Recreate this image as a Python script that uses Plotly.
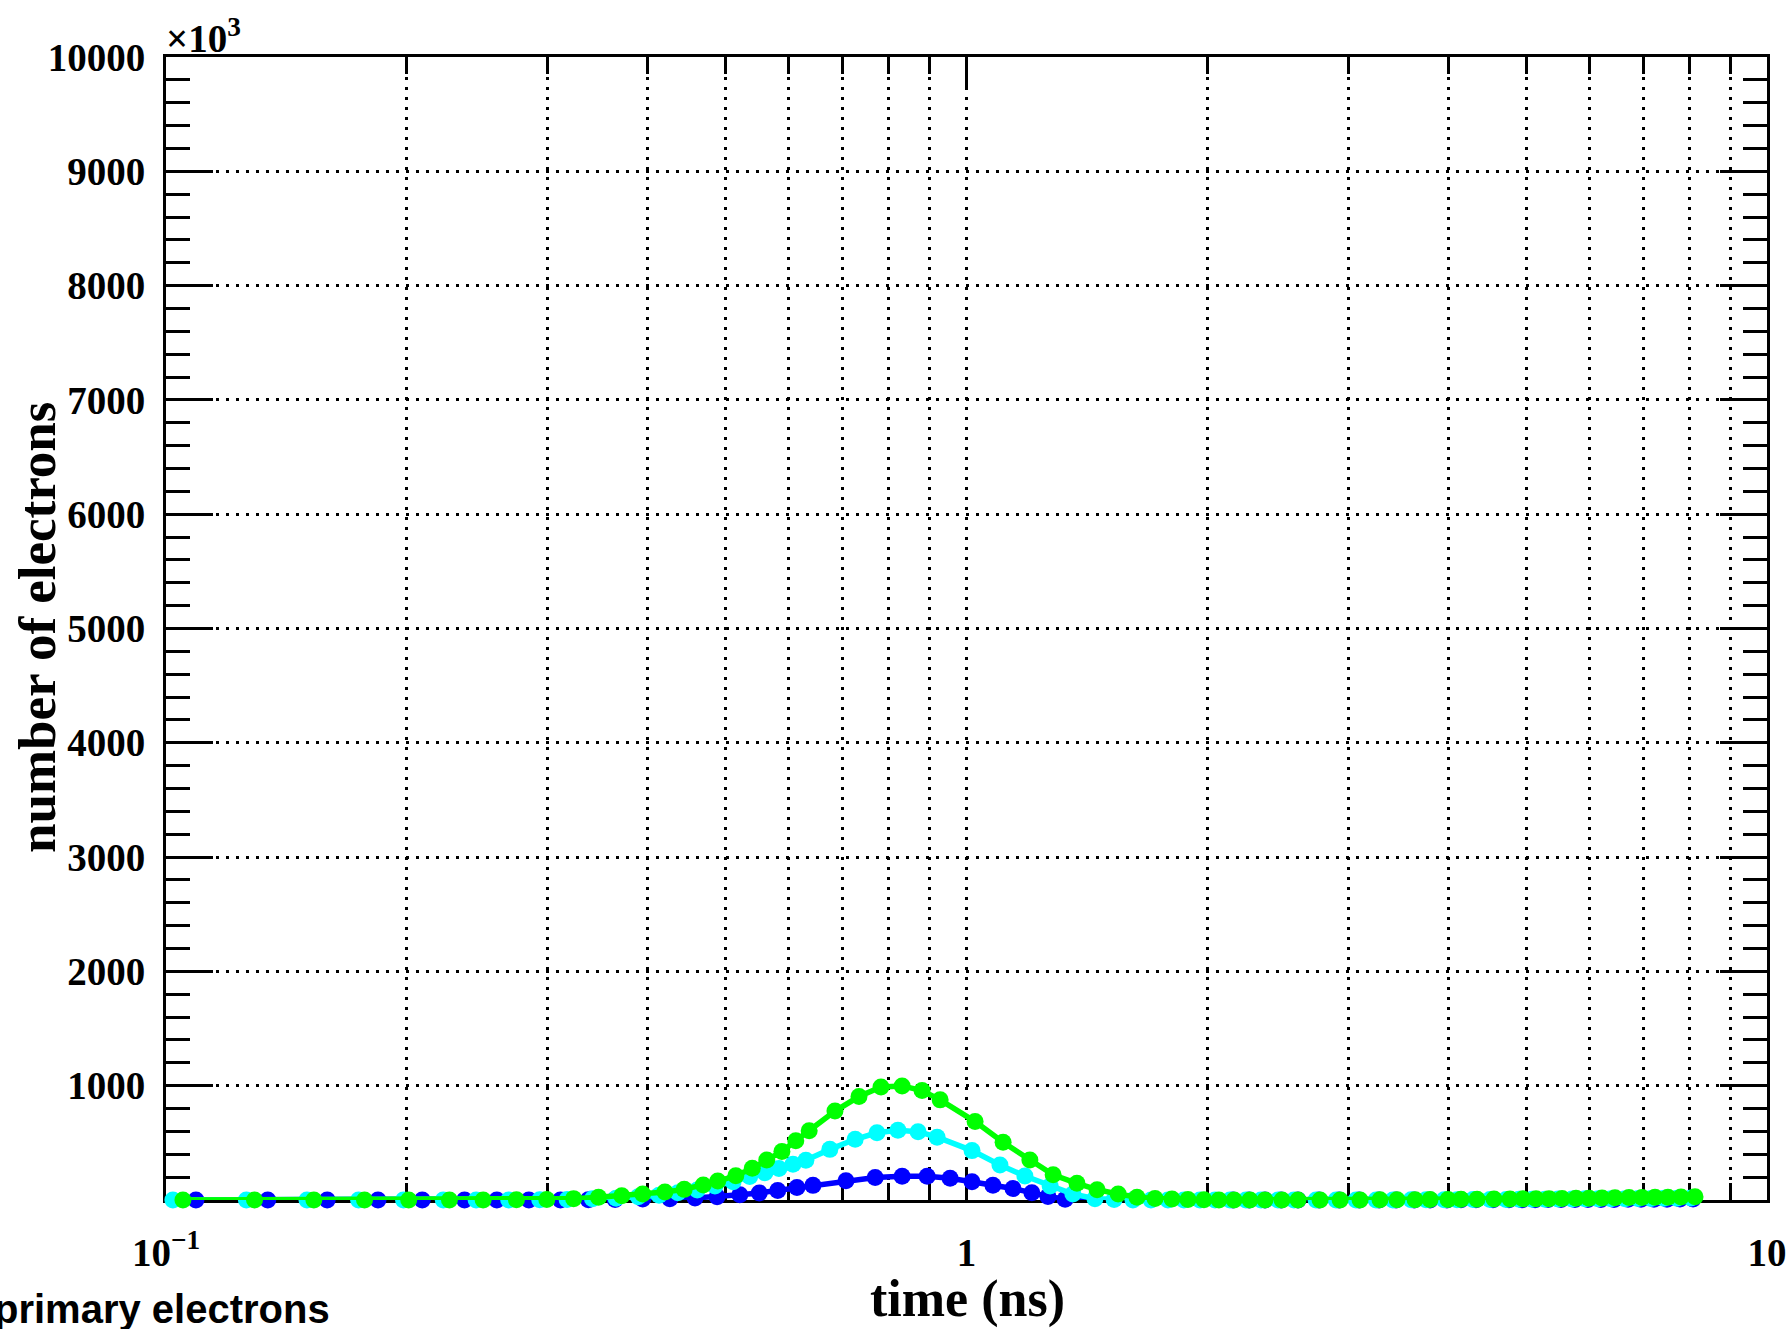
import plotly.graph_objects as go

# time (ns) and number of electrons (x10^3) for the three curves
blue_t = [0.109, 0.134, 0.159, 0.184, 0.209, 0.236, 0.259, 0.284, 0.311, 0.337,
          0.364, 0.394, 0.426, 0.458, 0.488, 0.521, 0.551, 0.581, 0.614, 0.643,
          0.707, 0.769, 0.831, 0.893, 0.954, 1.016, 1.079, 1.143, 1.207, 1.264,
          1.328, 1.394, 1.460, 1.538, 1.619, 1.705, 1.791, 1.880, 1.969, 2.062,
          2.152, 2.254, 2.360, 2.471, 2.595, 2.756, 2.920, 3.093, 3.276, 3.440,
          3.624, 3.794, 3.983, 4.147, 4.330, 4.547, 4.761, 4.942, 5.132, 5.327,
          5.530, 5.756, 5.975, 6.203, 6.441, 6.706, 6.961, 7.225, 7.501, 7.786,
          8.084]
blue_n = [0, 0, 0, 0, 0, 0, 0, 0, 0, 2,
          4, 8, 12, 18, 29, 45, 62, 84, 110, 128,
          168, 196, 208, 208, 190, 160, 130, 100, 64, 30,
          6, -9, -14, -12, -10, -8, -6, -4, -2, -1,
          0, 0, 0, 0, 0, 0, 0, 0, 0, 1,
          1, 1, 1, 2, 2, 2, 3, 3, 3, 4,
          4, 4, 5, 5, 5, 6, 6, 7, 7, 8,
          8]

cyan_t = [0.102, 0.126, 0.150, 0.174, 0.198, 0.222, 0.244, 0.268, 0.293, 0.317,
          0.341, 0.365, 0.389, 0.413, 0.436, 0.461, 0.485, 0.511, 0.536, 0.560,
          0.583, 0.607, 0.630, 0.675, 0.726, 0.773, 0.821, 0.870, 0.919, 1.016,
          1.101, 1.183, 1.272, 1.358, 1.447, 1.529, 1.614, 1.700, 1.785, 1.869,
          1.957, 2.044, 2.134, 2.234, 2.333, 2.450, 2.565, 2.733, 2.895, 3.066,
          3.248, 3.410, 3.593, 3.750, 3.950, 4.100, 4.293, 4.508, 4.721, 4.900,
          5.087, 5.281, 5.482, 5.707, 5.924, 6.151, 6.385, 6.648, 6.901, 7.163,
          7.435, 7.719, 8.037]
cyan_n = [0, 0, 0, 0, 0, 0, 0, 1, 2, 5,
          10, 15, 28, 42, 64, 88, 122, 160, 205, 239,
          276, 312, 348, 443, 531, 588, 610, 598, 550, 432,
          306, 210, 122, 52, 12, 4, 1, 0, 0, 0,
          0, 0, 0, 0, 0, 0, 0, 0, 0, 1,
          1, 1, 2, 2, 3, 3, 4, 5, 5, 6,
          7, 7, 8, 9, 10, 10, 11, 12, 13, 14,
          15, 16, 17]

green_t = [0.105, 0.129, 0.153, 0.177, 0.201, 0.226, 0.249, 0.274, 0.299, 0.323,
           0.347, 0.371, 0.394, 0.420, 0.444, 0.469, 0.489, 0.515, 0.540, 0.563,
           0.588, 0.612, 0.636, 0.685, 0.734, 0.782, 0.831, 0.880, 0.927, 1.025,
           1.111, 1.200, 1.283, 1.374, 1.456, 1.547, 1.633, 1.720, 1.806, 1.891,
           1.980, 2.067, 2.159, 2.260, 2.360, 2.478, 2.595, 2.765, 2.929, 3.102,
           3.285, 3.450, 3.634, 3.794, 3.995, 4.147, 4.343, 4.560, 4.775, 4.957,
           5.146, 5.342, 5.546, 5.773, 5.993, 6.222, 6.458, 6.724, 6.980, 7.246,
           7.521, 7.809, 8.130]
green_n = [0, 0, 0, 0, 0, 0, 0, 2, 5, 12,
           24, 38, 52, 70, 93, 131, 166, 212, 277, 350,
           424, 518, 606, 778, 905, 988, 998, 958, 876, 686,
           505, 350, 220, 146, 90, 52, 25, 14, 8, 4,
           2, 1, 0, 0, 0, 0, 0, 0, 1, 1,
           2, 2, 3, 4, 5, 6, 7, 8, 9, 10,
           11, 12, 13, 15, 16, 18, 19, 21, 22, 24,
           25, 27, 28]

# axis ticks
x_major = [0.1, 1, 10]
x_major_text = ["10<sup>\u22121</sup>", "1", "10"]
x_minor = [0.2, 0.3, 0.4, 0.5, 0.6, 0.7, 0.8, 0.9, 2, 3, 4, 5, 6, 7, 8, 9]
y_major = [1000, 2000, 3000, 4000, 5000, 6000, 7000, 8000, 9000, 10000]
y_major_text = ["1000", "2000", "3000", "4000", "5000", "6000", "7000", "8000", "9000", "10000"]

W, H = 1790, 1329
L, R, T, B = 166, 23, 57, 129
PW, PH = W - L - R, H - T - B

serif_bold = dict(family="Liberation Serif", size=39, color="black", weight="bold")
grid = dict(showgrid=True, gridcolor="black", gridwidth=2.5, griddash="3px,7px")

fig = go.Figure()
for t, n, color in [(blue_t, blue_n, "#0000ff"),
                    (cyan_t, cyan_n, "#00ffff"),
                    (green_t, green_n, "#00ff00")]:
    fig.add_trace(go.Scatter(
        x=t, y=n, mode="lines+markers",
        line=dict(color=color, width=5.5),
        marker=dict(color=color, size=17, line=dict(width=0)),
        cliponaxis=False, showlegend=False, hoverinfo="x+y",
    ))

fig.update_xaxes(
    type="log", range=[-1, 1], automargin=False,
    tickmode="array", tickvals=x_major, ticktext=x_major_text,
    ticks="inside", ticklen=33, tickwidth=3, tickcolor="black",
    showline=True, linewidth=3, linecolor="black", mirror="ticks",
    zeroline=False, tickfont=serif_bold, ticklabelstandoff=16,
    layer="below traces",
    minor=dict(tickmode="array", tickvals=x_minor, ticks="inside", ticklen=17,
               tickwidth=3, tickcolor="black", **grid),
    **grid,
)
fig.update_yaxes(
    range=[0, 10000], automargin=False,
    tickmode="array", tickvals=y_major, ticktext=y_major_text,
    ticks="inside", ticklen=47, tickwidth=3, tickcolor="black",
    showline=True, linewidth=3, linecolor="black", mirror="ticks",
    zeroline=False, tickfont=serif_bold, ticklabelstandoff=10,
    layer="below traces",
    minor=dict(tickmode="linear", tick0=0, dtick=200, ticks="inside", ticklen=24,
               tickwidth=3, tickcolor="black", showgrid=False),
    **grid,
)


def px_x(px):
    return (px - L) / PW


def px_y(py):
    return (H - B - py) / PH


fig.add_annotation(text="\u00d710<sup>3</sup>", xref="paper", yref="paper",
                   x=px_x(164), y=px_y(36), xanchor="left", yanchor="middle",
                   showarrow=False,
                   font=dict(family="Liberation Serif", size=39, color="black", weight="bold"))
fig.add_annotation(text="time (ns)", xref="paper", yref="paper",
                   x=px_x(967), y=px_y(1299), xanchor="center", yanchor="middle",
                   showarrow=False,
                   font=dict(family="Liberation Serif", size=52, color="black", weight="bold"))
fig.add_annotation(text="number of electrons", xref="paper", yref="paper",
                   x=px_x(37), y=px_y(628), xanchor="center", yanchor="middle",
                   textangle=-90, showarrow=False,
                   font=dict(family="Liberation Serif", size=53, color="black", weight="bold"))
fig.add_annotation(text="primary electrons", xref="paper", yref="paper",
                   x=px_x(-8), y=px_y(1309), xanchor="left", yanchor="middle",
                   showarrow=False,
                   font=dict(family="Liberation Sans", size=40, color="black", weight="bold"))

fig.update_layout(
    width=W, height=H, autosize=False,
    margin=dict(l=L, r=R, t=T, b=B, pad=0, autoexpand=False),
    paper_bgcolor="white", plot_bgcolor="white",
    showlegend=False,
)

fig.write_html("out.html")
